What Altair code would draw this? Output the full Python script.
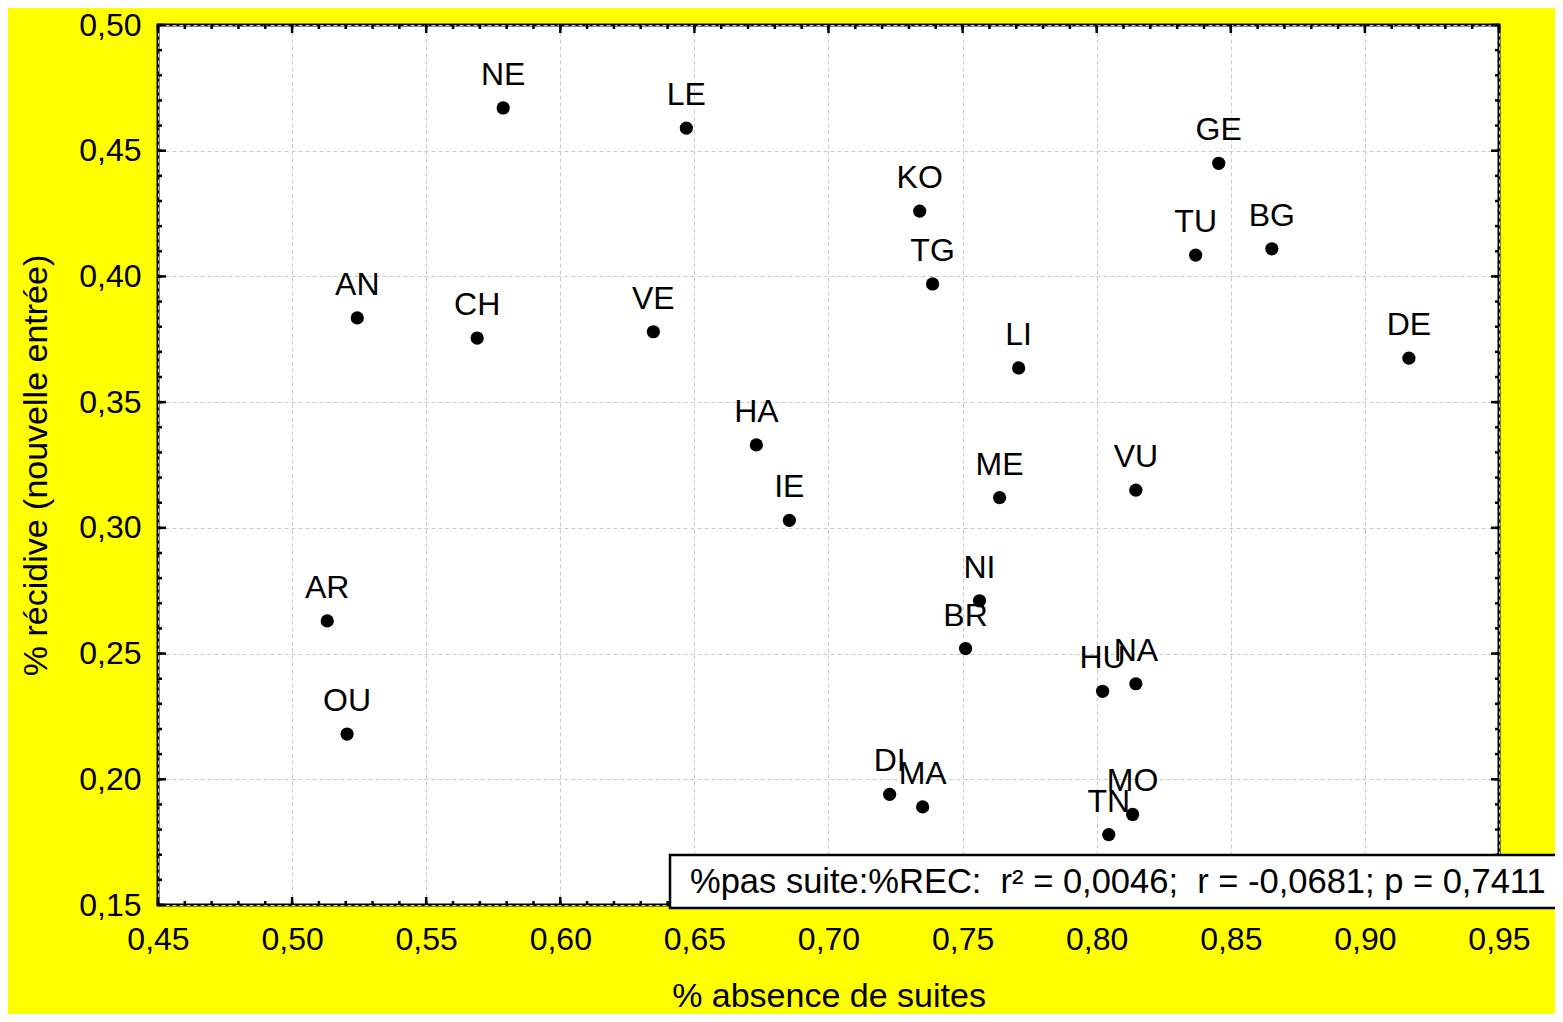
import altair as alt
import pandas as pd

codes = ["NE", "LE", "KO", "GE", "TU", "BG", "TG", "AN", "CH", "VE", "DE", "LI", "HA",
         "IE", "ME", "VU", "NI", "BR", "AR", "OU", "HU", "NA", "DI", "MA", "TN", "MO"]
absence = [0.5787, 0.647, 0.734, 0.8455, 0.8369, 0.8653, 0.7388, 0.5243, 0.569, 0.6347, 0.9164, 0.7709, 0.6731,
           0.6854, 0.7638, 0.8146, 0.7563, 0.7511, 0.5131, 0.5205, 0.8022, 0.8146, 0.7228, 0.7351, 0.8045, 0.8134]
recidive = [0.467, 0.459, 0.426, 0.445, 0.4085, 0.411, 0.397, 0.3835, 0.3755, 0.378, 0.3675, 0.3636, 0.333,
            0.303, 0.312, 0.315, 0.271, 0.252, 0.263, 0.218, 0.235, 0.238, 0.194, 0.189, 0.178, 0.186]

x_major = [0.45, 0.50, 0.55, 0.60, 0.65, 0.70, 0.75, 0.80, 0.85, 0.90, 0.95]
y_major = [0.15, 0.20, 0.25, 0.30, 0.35, 0.40, 0.45, 0.50]
x_minor = [round(0.45 + 0.01 * i, 2) for i in range(51)]
y_minor = [round(0.15 + 0.01 * i, 2) for i in range(36)]

stats_text = ["%pas suite:%REC:\u00a0 r² = 0,0046;\u00a0 r = -0,0681; p = 0,7411"]

W, H = 1341, 880
FONT = "Liberation Sans"

df = pd.DataFrame({"code": codes, "x": absence, "y": recidive})
xscale = alt.Scale(domain=[0.45, 0.95], nice=False, zero=False)
yscale = alt.Scale(domain=[0.15, 0.50], nice=False, zero=False)

fmt = "replace(format(datum.value, '.2f'), '.', ',')"

base = alt.Chart(df).encode(
    x=alt.X("x:Q", scale=xscale,
            axis=alt.Axis(title="% absence de suites", values=x_major, labelExpr=fmt,
                          ticks=False, domain=False, grid=True, gridDash=[4, 3],
                          gridColor="#c8c8c8", gridWidth=1, labelFontSize=32,
                          labelPadding=19, titleFontSize=34, titleFontWeight="normal",
                          titlePadding=24, labelColor="black", titleColor="black",
                          labelFont=FONT, titleFont=FONT, labelFlush=False)),
    y=alt.Y("y:Q", scale=yscale,
            axis=alt.Axis(title="% récidive (nouvelle entrée)", values=y_major, labelExpr=fmt,
                          ticks=False, domain=False, grid=True, gridDash=[4, 3],
                          gridColor="#c8c8c8", gridWidth=1, labelFontSize=32,
                          labelPadding=17, titleFontSize=34, titleFontWeight="normal",
                          titlePadding=25, labelColor="black", titleColor="black",
                          labelFont=FONT, titleFont=FONT, labelFlush=False)),
)

points = base.mark_circle(size=175, color="black", opacity=1)
labels = base.mark_text(dy=-33, fontSize=32, font=FONT, color="black").encode(text="code:N")

xmaj = pd.DataFrame({"v": x_major})
ymaj = pd.DataFrame({"v": y_major})
xmin = pd.DataFrame({"v": x_minor})
ymin = pd.DataFrame({"v": y_minor})

def xticks(d, length, width):
    bottom = alt.Chart(d).mark_rule(color="black", strokeWidth=width).encode(
        x=alt.X("v:Q", scale=xscale), y=alt.value(H), y2=alt.value(H - length))
    top = alt.Chart(d).mark_rule(color="black", strokeWidth=width).encode(
        x=alt.X("v:Q", scale=xscale), y=alt.value(0), y2=alt.value(length))
    return bottom + top

def yticks(d, length, width):
    left = alt.Chart(d).mark_rule(color="black", strokeWidth=width).encode(
        y=alt.Y("v:Q", scale=yscale), x=alt.value(0), x2=alt.value(length))
    right = alt.Chart(d).mark_rule(color="black", strokeWidth=width).encode(
        y=alt.Y("v:Q", scale=yscale), x=alt.value(W), x2=alt.value(W - length))
    return left + right

ticks = xticks(xmin, 4, 2.5) + xticks(xmaj, 8, 2.5) + yticks(ymin, 4, 2.5) + yticks(ymaj, 8, 2.5)

sdf = pd.DataFrame({"t": stats_text})
box = alt.Chart(sdf).mark_rect(fill="white", stroke="black", strokeWidth=2.5).encode(
    x=alt.value(512), x2=alt.value(1420), y=alt.value(830), y2=alt.value(883))
box_text = alt.Chart(sdf).mark_text(align="left", baseline="middle", fontSize=34.5, font=FONT,
                                    color="black").encode(
    x=alt.value(532), y=alt.value(858), text="t:N")

chart = alt.layer(points, labels, ticks, box, box_text).properties(
    width=W, height=H,
    autosize=alt.AutoSizeParams(type="none"),
    padding={"left": 150, "top": 17, "right": 56, "bottom": 109},
    background="#ffff00",
).configure_view(fill="white", stroke="black", strokeWidth=3)

chart.save("out.html", embed_options={"renderer": "svg", "actions": False})
